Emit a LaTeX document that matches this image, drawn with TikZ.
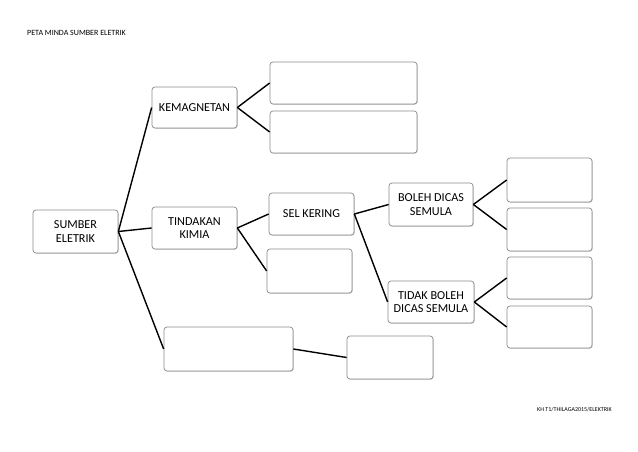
\documentclass[tikz,border=0pt]{standalone}
\usepackage{fontspec}
\setmainfont{Carlito}
\usetikzlibrary{shadows}
\begin{document}
\begin{tikzpicture}[x=1pt,y=-1pt,
  box/.style={draw=black!45,line width=0.7pt,rounded corners=3pt,fill=white,
    drop shadow={shadow xshift=0.8pt,shadow yshift=-0.8pt,opacity=0.35},
    align=center,font=\fontsize{12.2}{13.5}\selectfont,inner sep=0pt},
  link/.style={line width=1.4pt,black}]
\useasboundingbox (0,0) rectangle (638,452);
\newcommand{\bx}[6]{\node[box,minimum width={#4-#2},minimum height={#5-#3}] (#1) at ({(#2+#4)/2},{(#3+#5)/2}) {#6};}
\node[anchor=west,font=\fontsize{8}{9}\selectfont,inner sep=0pt] (title) at (27,33) {PETA MINDA SUMBER ELETRIK};
\node[anchor=east,font=\fontsize{6}{7}\selectfont,inner sep=0pt] (foot) at (612,410) {KH T1/THILAGA2015/ELEKTRIK};
\bx{sumber}{33}{210}{118}{253}{SUMBER\\ELETRIK}
\bx{kem}{152}{87}{237}{128}{KEMAGNETAN}
\bx{kemA}{270}{62}{417}{104}{}
\bx{kemB}{270}{111}{417}{153}{}
\bx{tin}{152}{207}{237}{249}{TINDAKAN\\KIMIA}
\bx{sel}{269}{193}{354}{235}{SEL KERING}
\bx{tinB}{267}{249}{352}{293}{}
\bx{bol}{389}{183}{473}{226}{BOLEH DICAS\\SEMULA}
\bx{tid}{388}{281}{474}{323}{TIDAK BOLEH\\DICAS SEMULA}
\bx{bolA}{507}{158}{592}{202}{}
\bx{bolB}{507}{208}{592}{251}{}
\bx{tidA}{507}{257}{592}{299}{}
\bx{tidB}{507}{306}{592}{348}{}
\bx{low}{164}{327}{293}{371}{}
\bx{lowB}{347}{336}{433}{379}{}
\draw[link] (sumber.east) -- (kem.west);
\draw[link] (sumber.east) -- (tin.west);
\draw[link] (sumber.east) -- (low.west);
\draw[link] (kem.east) -- (kemA.west);
\draw[link] (kem.east) -- (kemB.west);
\draw[link] (tin.east) -- (sel.west);
\draw[link] (tin.east) -- (tinB.west);
\draw[link] (sel.east) -- (bol.west);
\draw[link] (sel.east) -- (tid.west);
\draw[link] (bol.east) -- (bolA.west);
\draw[link] (bol.east) -- (bolB.west);
\draw[link] (tid.east) -- (tidA.west);
\draw[link] (tid.east) -- (tidB.west);
\draw[link] (low.east) -- (lowB.west);
\end{tikzpicture}
\end{document}
